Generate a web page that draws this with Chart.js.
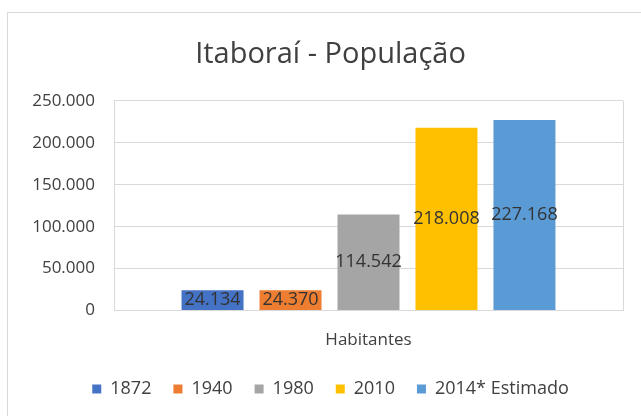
<!DOCTYPE html>
<html>
<head>
<meta charset="utf-8">
<script src="https://cdn.jsdelivr.net/npm/chart.js@4.4.1/dist/chart.umd.min.js"></script>
<style>
    html, body { margin: 0; padding: 0; background: #fff; }
    #wrap { position: relative; width: 641px; height: 416px; }
    #frame {
        position: absolute; left: 7px; top: 12px; width: 660px; height: 430px;
        border: 1px solid #d9d9d9; box-sizing: border-box;
    }
    canvas { position: absolute; left: 0; top: 0; }
</style>
</head>
<body>
<div id="wrap">
    <div id="frame"></div>
    <canvas id="chart" width="641" height="416"></canvas>
</div>
<script>
// Chart data
const categories = ['Habitantes'];
const seriesNames = ['1872', '1940', '1980', '2010', '2014* Estimado'];
const seriesValues = [24134, 24370, 114542, 218008, 227168];
const seriesColors = ['#4472C4', '#ED7D31', '#A5A5A5', '#FFC000', '#5B9BD5'];
const yTicks = [0, 50000, 100000, 150000, 200000, 250000];

const FONT = "'Open Sans', sans-serif";

// 24134 -> "24.134"
function fmt(v) {
    return String(Math.round(v)).replace(/\B(?=(\d{3})+(?!\d))/g, '.');
}

// Value labels centred on each bar
const barLabels = {
    id: 'barLabels',
    afterDatasetsDraw(chart) {
        const ctx = chart.ctx;
        ctx.save();
        ctx.font = '18px ' + FONT;
        ctx.fillStyle = '#333333';
        ctx.textAlign = 'center';
        ctx.textBaseline = 'middle';
        chart.data.datasets.forEach((ds, i) => {
            chart.getDatasetMeta(i).data.forEach((bar, j) => {
                const mid = (bar.y + bar.base) / 2;
                ctx.fillText(fmt(ds.data[j]), bar.x, mid);
            });
        });
        ctx.restore();
    }
};

// Small layout nudges: let the y labels spill left, pull legend up a bit
const nudge = {
    id: 'nudge',
    afterLayout(chart) {
        chart.scales.y.left -= 20;
        chart.legend.top -= 4;
        chart.legend.bottom -= 4;
    }
};

new Chart(document.getElementById('chart'), {
    type: 'bar',
    data: {
        labels: categories,
        datasets: seriesNames.map((name, i) => ({
            label: name,
            data: [seriesValues[i]],
            backgroundColor: seriesColors[i],
            borderWidth: 0,
            categoryPercentage: 0.766,
            barPercentage: 0.795
        }))
    },
    options: {
        responsive: false,
        animation: false,
        layout: {
            padding: { left: 38, right: 18, top: 12, bottom: 4 }
        },
        plugins: {
            title: {
                display: true,
                text: 'Itaboraí - População',
                color: '#404040',
                font: { family: FONT, size: 29, weight: 'normal' },
                padding: { top: 25, bottom: 29 }
            },
            legend: {
                position: 'bottom',
                labels: {
                    color: '#404040',
                    font: { family: FONT, size: 18 },
                    boxWidth: 9,
                    boxHeight: 9,
                    padding: 22
                }
            },
            tooltip: { enabled: false }
        },
        scales: {
            x: {
                offset: true,
                afterFit(scale) { scale.height -= 7; },
                grid: { display: true, drawTicks: false, color: '#d9d9d9', offset: true },
                border: { display: true, color: '#d9d9d9' },
                ticks: {
                    color: '#404040',
                    font: { family: FONT, size: 17 },
                    padding: 19
                }
            },
            y: {
                min: 0,
                max: 250000,
                afterFit(scale) { scale.width = 76; },
                afterBuildTicks(scale) { scale.ticks = yTicks.map(v => ({ value: v })); },
                grid: { color: '#d9d9d9', drawTicks: false },
                border: { display: false },
                ticks: {
                    color: '#404040',
                    font: { family: FONT, size: 17 },
                    padding: 19,
                    callback: v => fmt(v)
                }
            }
        }
    },
    plugins: [barLabels, nudge]
});
</script>
</body>
</html>
